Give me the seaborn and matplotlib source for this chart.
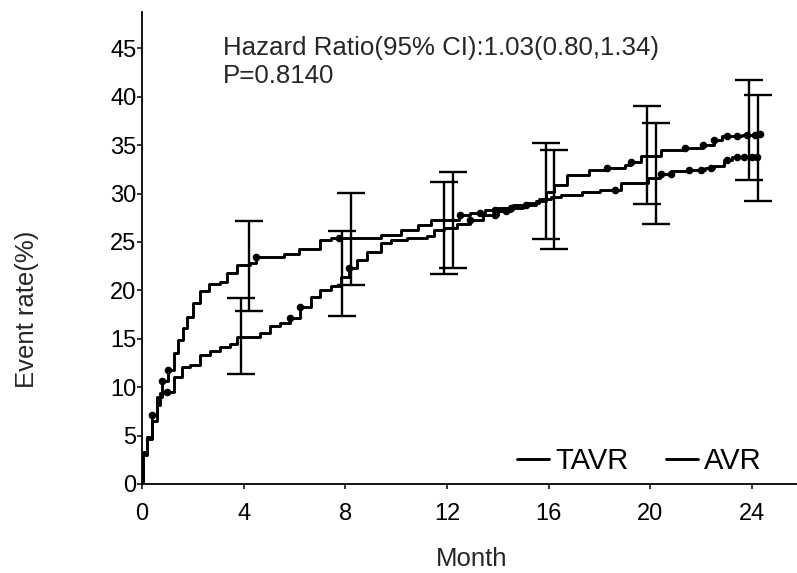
import numpy as np
import pandas as pd
import seaborn as sns
import matplotlib.pyplot as plt

# step curves (month, cumulative event rate %)
tavr_month = [0, 0.05, 0.19, 0.38, 0.58, 0.78, 1.04, 1.24, 1.43, 1.63, 1.76, 2.02, 2.29, 2.62,
              3.08, 3.34, 3.73, 4.26, 4.5, 5.57, 6.17, 7.02, 7.42, 9.39, 10.18, 10.84, 11.36,
              12.48, 12.9, 13.5, 14.0, 14.6, 15.2, 15.6, 16.1, 16.5, 17.3, 18.0, 18.86, 19.9,
              20.37, 20.83, 21.49, 22.14, 22.5, 22.9, 23.2, 24.25]
tavr_rate = [0, 3.3, 4.9, 7.1, 9.0, 10.6, 11.8, 13.5, 14.9, 16.1, 17.3, 18.7, 19.9, 20.7,
             20.9, 21.8, 22.6, 22.8, 23.5, 23.8, 24.3, 25.2, 25.4, 25.7, 26.2, 26.8, 27.3,
             27.8, 28.0, 28.3, 28.5, 28.8, 29.0, 29.4, 29.6, 29.9, 30.2, 30.4, 31.1, 31.6,
             32.0, 32.3, 32.4, 32.6, 32.8, 33.5, 33.8, 33.8]

avr_month = [0, 0.05, 0.19, 0.38, 0.58, 0.71, 0.97, 1.24, 1.56, 1.89, 2.29, 2.68, 3.08, 3.47,
             3.73, 4.65, 5.05, 5.44, 5.84, 6.23, 6.63, 7.02, 7.42, 7.81, 8.14, 8.47, 8.86, 9.39,
             9.78, 10.44, 11.23, 11.49, 11.89, 12.41, 12.9, 13.4, 14.0, 14.5, 15.0, 15.5, 15.9,
             16.2, 16.7, 17.6, 18.26, 18.99, 19.25, 19.64, 20.4, 21.35, 22.07, 22.5, 22.8, 23.6,
             24.3]
avr_rate = [0, 3.0, 4.6, 6.5, 8.2, 9.4, 9.5, 11.1, 12.1, 12.3, 13.3, 13.7, 14.2, 14.5,
            15.2, 15.6, 16.3, 16.6, 17.1, 18.3, 19.3, 20.0, 20.5, 21.4, 22.3, 23.1, 24.0, 24.9,
            25.2, 25.4, 25.6, 26.2, 26.4, 26.9, 27.3, 27.8, 28.2, 28.5, 28.8, 29.2, 30.2,
            30.9, 31.9, 32.4, 32.6, 33.0, 33.3, 33.9, 34.5, 34.7, 35.0, 35.5, 36.0, 36.1,
            36.2]

# censored points (months)
tavr_censor = [0.38, 0.78, 1.04, 4.5, 7.75, 12.5, 13.3, 13.9, 14.5, 15.1, 18.6, 20.4, 20.8,
               21.5, 22.0, 22.4, 23.0, 23.4, 23.7, 24.0, 24.2]
avr_censor = [0.97, 5.84, 6.23, 8.14, 12.9, 13.9, 14.3, 18.3, 19.25, 21.35, 22.07, 22.5,
              23.0, 23.4, 23.8, 24.1, 24.3]

# 95% CI bars
ci_month = [4, 8, 12, 16, 20, 24]
tavr_lo = [17.9, 20.6, 22.3, 24.3, 26.9, 29.2]
tavr_hi = [27.2, 30.1, 32.2, 34.5, 37.3, 40.2]
avr_lo = [11.4, 17.4, 21.7, 25.3, 28.9, 31.4]
avr_hi = [19.2, 26.1, 31.2, 35.2, 39.0, 41.7]

sns.set_style('ticks')
plt.rcParams['font.family'] = ['Liberation Sans', 'DejaVu Sans']

W, H = 797, 573
fig = plt.figure(figsize=(W / 100, H / 100), dpi=100)
# axes: x=0 at px 142, y=0 at px 484, spine top at px 12
ax = fig.add_axes([142 / W, (H - 484) / H, (W - 142) / W, (484 - 12) / H])


def step_value(months, rates, t):
    i = np.searchsorted(months, t, side='right') - 1
    return np.array(rates)[i]


groups = [('TAVR', tavr_month, tavr_rate, tavr_censor, tavr_lo, tavr_hi, 0.22),
          ('AVR', avr_month, avr_rate, avr_censor, avr_lo, avr_hi, -0.12)]

for name, m, r, cens, lo, hi, off in groups:
    df = pd.DataFrame({'Month': m, 'Rate': r})
    sns.lineplot(data=df, x='Month', y='Rate', estimator=None, drawstyle='steps-post',
                 color='black', linewidth=2.1, label=name, ax=ax)
    cdf = pd.DataFrame({'Month': cens, 'Rate': step_value(m, r, cens)})
    sns.scatterplot(data=cdf, x='Month', y='Rate', color='black', s=30, edgecolor='black',
                    linewidth=0, ax=ax, legend=False)
    lo = np.array(lo)
    hi = np.array(hi)
    ax.errorbar(np.array(ci_month) + off, (lo + hi) / 2, yerr=(hi - lo) / 2, fmt='none',
                ecolor='black', elinewidth=1.7, capsize=10, capthick=1.7)

ax.set_xlim(0, (W - 142) / 25.42)
ax.set_ylim(0, (484 - 12) / 9.68)
ax.set_xticks([0, 4, 8, 12, 16, 20, 24])
ax.set_yticks(range(0, 50, 5))
ax.tick_params(labelsize=17, length=3.5, width=1.1, color='black', labelcolor='black')
ax.tick_params(axis='x', pad=10)
ax.tick_params(axis='y', pad=0.5)
for s in ['top', 'right']:
    ax.spines[s].set_visible(False)
for s in ['left', 'bottom']:
    ax.spines[s].set_color('black')
    ax.spines[s].set_linewidth(1.3)

ax.set_xlabel('Month', fontsize=18.5)
ax.xaxis.set_label_coords((472 - 142) / (W - 142), -(559 - 484) / (484 - 12))
ax.xaxis.label.set_verticalalignment('center')
ax.set_ylabel('')
fig.text(27 / W, 1 - 309 / H, 'Event rate(%)', fontsize=18.5, rotation=90,
         ha='center', va='center')

fig.text(223 / W, 1 - 55 / H, 'Hazard Ratio(95% CI):1.03(0.80,1.34)', fontsize=18.6,
         ha='left', va='baseline')
fig.text(223 / W, 1 - 83 / H, 'P=0.8140', fontsize=18.6, ha='left', va='baseline')

ax.legend(loc='center left', bbox_to_anchor=(517 / W, 1 - 461 / H),
          bbox_transform=fig.transFigure, ncol=2, frameon=False,
          fontsize=21, handlelength=1.1, handletextpad=0.2, columnspacing=1.3,
          borderpad=0, borderaxespad=0, labelcolor='black')

fig.savefig('out.png', dpi=100)
